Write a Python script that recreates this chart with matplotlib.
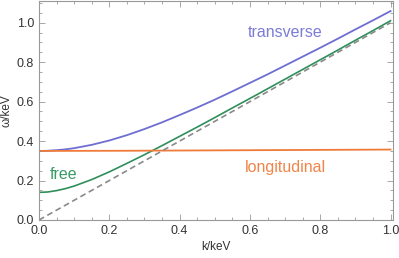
import matplotlib
matplotlib.use("Agg")
import matplotlib.pyplot as plt
from matplotlib.ticker import MultipleLocator

# k/keV sample points and curves
k = [0.0, 0.025, 0.05, 0.075, 0.1, 0.15, 0.2, 0.25, 0.3, 0.35, 0.4, 0.45, 0.5,
     0.55, 0.6, 0.65, 0.7, 0.75, 0.8, 0.85, 0.9, 0.95, 1.0]
transverse = [0.350, 0.351, 0.354, 0.358, 0.364, 0.381, 0.403, 0.430, 0.461,
              0.495, 0.532, 0.570, 0.610, 0.652, 0.695, 0.738, 0.783, 0.828,
              0.873, 0.919, 0.966, 1.012, 1.059]
free = [0.140, 0.142, 0.149, 0.159, 0.172, 0.205, 0.244, 0.287, 0.331, 0.377,
        0.424, 0.471, 0.519, 0.568, 0.616, 0.665, 0.714, 0.763, 0.812, 0.861,
        0.911, 0.960, 1.010]
k_long = [0.0, 0.25, 0.5, 0.75, 1.0]
longitudinal = [0.350, 0.351, 0.353, 0.355, 0.357]
k_light = [0.0, 1.0]
light = [0.0, 1.0]

plt.rcParams['font.family'] = ['Liberation Sans', 'DejaVu Sans']
fig = plt.figure(figsize=(3.99, 2.58), dpi=100)
ax = fig.add_axes([39 / 399, 38 / 258, 354 / 399, 219 / 258])

ax.plot(k, transverse, color='#6e6ed2', lw=1.3)
ax.plot(k, free, color='#2f8f5b', lw=1.2)
ax.plot(k_long, longitudinal, color='#f07a3a', lw=1.3)
ax.plot(k_light, light, color='#8a8a8a', lw=1.2, ls=(0, (3.5, 2.2)))

ax.text(0.70, 0.95, 'transverse', color='#7c7cd6', fontsize=11.5, ha='center', va='center')
ax.text(0.07, 0.23, 'free', color='#3a9a66', fontsize=11.5, ha='center', va='center')
ax.text(0.70, 0.264, 'longitudinal', color='#f0854a', fontsize=11.5, ha='center', va='center')

ax.set_xlim(0, 1.007)
ax.set_ylim(0, 1.11)
ax.xaxis.set_major_locator(MultipleLocator(0.2))
ax.xaxis.set_minor_locator(MultipleLocator(0.05))
ax.yaxis.set_major_locator(MultipleLocator(0.2))
ax.yaxis.set_minor_locator(MultipleLocator(0.05))
ax.xaxis.set_major_formatter(plt.FuncFormatter(lambda v, p: f'{v:.1f}'))
ax.yaxis.set_major_formatter(plt.FuncFormatter(lambda v, p: f'{v:.1f}'))
ax.tick_params(which='both', direction='in', top=True, right=True,
               color='#999999', labelsize=9, labelcolor='#333333', width=0.6)
ax.tick_params(which='major', length=4)
ax.tick_params(which='minor', length=2)
ax.tick_params(which='both', labeltop=False, labelright=False)
for s in ax.spines.values():
    s.set_color('#999999')
    s.set_linewidth(0.8)

ax.set_xlabel('k/keV', fontsize=8.5, color='#333333', labelpad=3)
ax.set_ylabel('ω/keV', fontsize=8.5, color='#333333', labelpad=3)

fig.savefig('out.png', dpi=100)
